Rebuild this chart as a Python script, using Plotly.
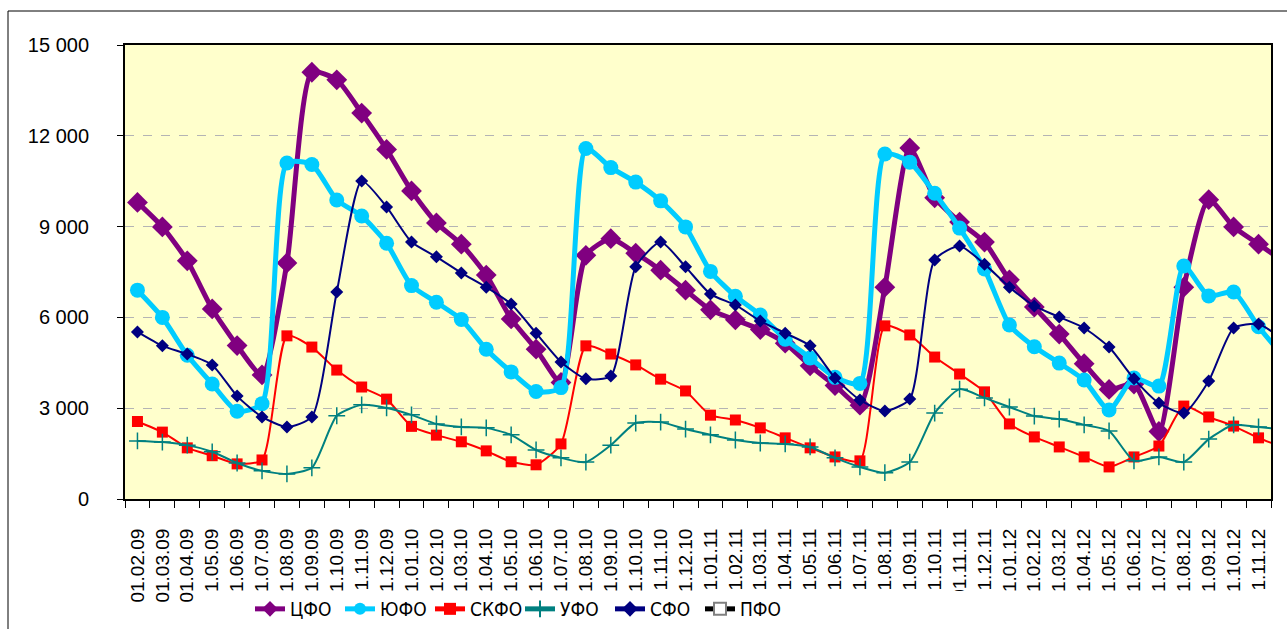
import plotly.graph_objects as go

categories = ["01.02.09", "01.03.09", "01.04.09", "01.05.09", "01.06.09", "01.07.09", "01.08.09", "01.09.09",
              "01.10.09", "01.11.09", "01.12.09", "01.01.10", "01.02.10", "01.03.10", "01.04.10", "01.05.10",
              "01.06.10", "01.07.10", "01.08.10", "01.09.10", "01.10.10", "01.11.10", "01.12.10", "01.01.11",
              "01.02.11", "01.03.11", "01.04.11", "01.05.11", "01.06.11", "01.07.11", "01.08.11", "01.09.11",
              "01.10.11", "01.11.11", "01.12.11", "01.01.12", "01.02.12", "01.03.12", "01.04.12", "01.05.12",
              "01.06.12", "01.07.12", "01.08.12", "01.09.12", "01.10.12", "01.11.12", "01.12.12"]

cfo = [9800, 8990, 7870, 6280, 5070, 4100, 7800, 14100, 13850, 12750, 11550, 10180, 9120, 8420, 7400, 5950,
       4950, 3850, 8050, 8600, 8120, 7560, 6900, 6250, 5920, 5600, 5150, 4400, 3750, 3100, 7000, 11600,
       9950, 9150, 8490, 7240, 6340, 5450, 4470, 3620, 3800, 2230, 7000, 9890, 8990, 8420, 7850]
yufo = [6900, 6000, 4750, 3800, 2900, 3150, 11100, 11050, 9880, 9350, 8450, 7050, 6500, 5930, 4950, 4200,
        3550, 3680, 11580, 10950, 10470, 9850, 8990, 7520, 6700, 6080, 5280, 4660, 4020, 3820, 11400, 11130,
        10100, 8950, 7600, 5750, 5030, 4490, 3930, 2940, 4000, 3730, 7700, 6710, 6840, 5690, 4700]
skfo = [2560, 2210, 1690, 1430, 1160, 1290, 5390, 5020, 4260, 3700, 3300, 2400, 2110, 1890, 1590, 1230,
        1130, 1820, 5060, 4790, 4430, 3960, 3570, 2770, 2610, 2350, 2020, 1690, 1390, 1260, 5720, 5420,
        4690, 4130, 3540, 2480, 2050, 1720, 1390, 1060, 1390, 1750, 3070, 2710, 2410, 2020, 1700]
ufo = [1920, 1880, 1780, 1560, 1190, 930, 830, 1030, 2750, 3110, 3010, 2780, 2480, 2380, 2350, 2120,
       1620, 1360, 1220, 1780, 2510, 2540, 2310, 2120, 1950, 1850, 1820, 1720, 1360, 1060, 870, 1220,
       2840, 3630, 3340, 3040, 2740, 2640, 2450, 2250, 1260, 1390, 1220, 1980, 2450, 2380, 2300]
sfo = [5520, 5060, 4790, 4430, 3400, 2710, 2380, 2710, 6840, 10510, 9650, 8490, 8000, 7470, 7000, 6440,
       5480, 4530, 3970, 4060, 7670, 8490, 7670, 6770, 6410, 5880, 5480, 5060, 4000, 3270, 2910, 3300,
       7900, 8360, 7760, 7000, 6380, 6010, 5650, 5020, 3970, 3170, 2840, 3900, 5650, 5780, 5250]

y_ticks = [0, 3000, 6000, 9000, 12000, 15000]
y_tick_labels = ["0", "3 000", "6 000", "9 000", "12 000", "15 000"]

# layout geometry (pixels)
W, H = 1287, 629
L, R, T, B = 125, 16, 45, 130
PW, PH = W - L - R, H - T - B


def px_x(p):
    return (p - L) / PW


def px_y(p):
    return (H - B - p) / PH


SMOOTH = 0.6
fig = go.Figure()
fig.add_trace(go.Scatter(x=categories, y=cfo, name="ЦФО", mode="lines+markers",
                         line=dict(color="#800080", width=5, shape="spline", smoothing=SMOOTH),
                         marker=dict(symbol="diamond", size=16, color="#800080")))
fig.add_trace(go.Scatter(x=categories, y=yufo, name="ЮФО", mode="lines+markers",
                         line=dict(color="#00CCFF", width=5, shape="spline", smoothing=SMOOTH),
                         marker=dict(symbol="circle", size=15, color="#00CCFF")))
fig.add_trace(go.Scatter(x=categories, y=skfo, name="СКФО", mode="lines+markers",
                         line=dict(color="#FF0000", width=2, shape="spline", smoothing=SMOOTH),
                         marker=dict(symbol="square", size=11, color="#FF0000")))
fig.add_trace(go.Scatter(x=categories, y=ufo, name="УФО", mode="lines+markers",
                         line=dict(color="#008080", width=2, shape="spline", smoothing=SMOOTH),
                         marker=dict(symbol="cross-thin", size=12, color="#008080",
                                     line=dict(color="#008080", width=1.5))))
fig.add_trace(go.Scatter(x=categories, y=sfo, name="СФО", mode="lines+markers",
                         line=dict(color="#000080", width=2, shape="spline", smoothing=SMOOTH),
                         marker=dict(symbol="diamond", size=10, color="#000080")))
fig.add_trace(go.Scatter(x=[None], y=[None], name="ПФО", mode="lines+markers",
                         line=dict(color="#000000", width=2),
                         marker=dict(symbol="square", size=9, color="#FFFFFF",
                                     line=dict(color="#808080", width=1.5))))

fig.update_layout(
    width=W, height=H,
    margin=dict(l=L, r=R, t=T, b=B, pad=0, autoexpand=False),
    paper_bgcolor="#FFFFFF",
    plot_bgcolor="#FFFFCC",
    font=dict(family="Arial, 'Liberation Sans', sans-serif", color="#000000", size=19),
    showlegend=True,
    legend=dict(orientation="h", x=px_x(250), y=px_y(590), xanchor="left", yanchor="top",
                bgcolor="rgba(0,0,0,0)", itemwidth=30, itemsizing="constant", entrywidth=45,
                font=dict(family="'Liberation Sans Narrow', 'Arial Narrow', 'DejaVu Sans Condensed', Arial, sans-serif",
                          size=19, color="#000000"),
                traceorder="normal", itemclick=False),
    xaxis=dict(type="category", range=[-0.5, 45.5], tickson="boundaries", ticks="outside", ticklen=7,
               tickwidth=1, tickcolor="#000000", tickangle=-90, showgrid=False, showline=True,
               linecolor="#000000", linewidth=2, mirror=True, ticklabelstandoff=20,
               tickfont=dict(size=19)),
    yaxis=dict(range=[0, 15000], tickvals=y_ticks, ticktext=y_tick_labels, ticks="outside", ticklen=6,
               tickwidth=1, tickcolor="#000000", showgrid=True, gridcolor="#B4B4B4", griddash="dash",
               gridwidth=1, zeroline=False, showline=True, linecolor="#000000", linewidth=2, mirror=True,
               ticklabelstandoff=24, tickfont=dict(size=20)),
    shapes=[
        dict(type="rect", xref="paper", yref="paper", x0=px_x(8), x1=px_x(1320), y0=px_y(11), y1=px_y(660),
             line=dict(color="#000000", width=1), fillcolor="rgba(0,0,0,0)", layer="below"),
        dict(type="rect", xref="paper", yref="paper", x0=px_x(200), x1=px_x(1320), y0=px_y(591), y1=px_y(660),
             line=dict(width=0), fillcolor="#FFFFFF", layer="above"),
    ],
)

fig.write_html("out.html", config={"displayModeBar": False},
               post_script="document.body.style.margin='0';document.body.style.overflow='hidden';")
